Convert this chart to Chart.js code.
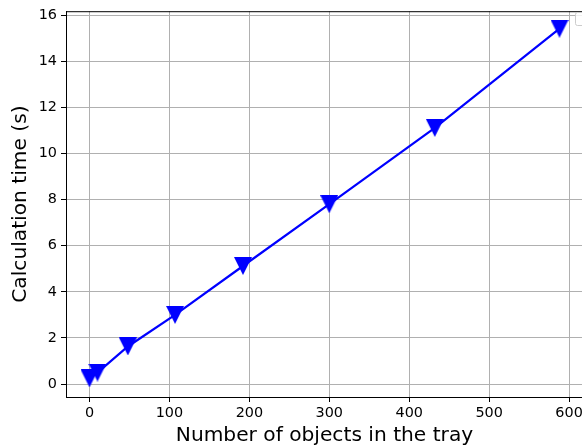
<!DOCTYPE html>
<html>
<head>
<meta charset="utf-8">
<script src="https://cdn.jsdelivr.net/npm/chart.js@4/dist/chart.umd.min.js"></script>
<style>
  html, body { margin: 0; padding: 0; background: #fff; overflow: hidden; }
  #wrap { position: relative; width: 600px; height: 448px; }
</style>
</head>
<body>
<div id="wrap"><canvas id="chart" width="600" height="448"></canvas></div>
<script>
// Measured calculation time against number of objects in the tray
const objectCounts = [0, 10, 48, 107, 192, 300, 432, 588];
const calcTimes    = [0.25, 0.5, 1.63, 3.0, 5.12, 7.8, 11.11, 15.41];

const xLabel = 'Number of objects in the tray';
const yLabel = 'Calculation time (s)';

const FONT = "'DejaVu Sans', sans-serif";

// Downward triangle marker
function makeMarker(size, color) {
  const c = document.createElement('canvas');
  c.width = size; c.height = size;
  const g = c.getContext('2d');
  g.fillStyle = color;
  g.beginPath();
  g.moveTo(0, 0);
  g.lineTo(size, 0);
  g.lineTo(size / 2, size);
  g.closePath();
  g.fill();
  return c;
}
const marker = makeMarker(18, '#0000ff');

// Frame around the plot area plus the small empty legend box
const framePlugin = {
  id: 'frame',
  afterDraw(chart) {
    const { ctx, chartArea: a } = chart;
    ctx.save();
    ctx.strokeStyle = '#000';
    ctx.lineWidth = 1;
    ctx.strokeRect(a.left + 0.5, a.top + 0.5, a.right - a.left, a.bottom - a.top);
    ctx.strokeStyle = '#cccccc';
    ctx.fillStyle = 'rgba(255,255,255,0.8)';
    ctx.beginPath();
    ctx.roundRect(575.5, 12.5, 14, 13, 2);
    ctx.fill();
    ctx.stroke();
    ctx.restore();
  }
};

const points = objectCounts.map((x, i) => ({ x, y: calcTimes[i] }));

new Chart(document.getElementById('chart'), {
  type: 'line',
  data: {
    datasets: [{
      data: points,
      borderColor: '#0000ff',
      backgroundColor: '#0000ff',
      borderWidth: 2.2,
      pointStyle: marker,
      pointRadius: 9,
      pointHoverRadius: 9,
      tension: 0
    }]
  },
  options: {
    responsive: false,
    animation: false,
    events: [],
    layout: { padding: { top: 11, right: 17, bottom: 0, left: 0 } },
    plugins: { legend: { display: false }, tooltip: { enabled: false } },
    scales: {
      x: {
        type: 'linear',
        min: -29.4,
        max: 617.4,
        grid: { color: '#b0b0b0', lineWidth: 1, tickColor: '#000', tickLength: 5 },
        border: { color: '#000', width: 1 },
        ticks: {
          stepSize: 100,
          includeBounds: false,
          color: '#000',
          padding: 3,
          maxRotation: 0,
          font: { family: FONT, size: 14.4 }
        },
        title: {
          display: true,
          text: xLabel,
          color: '#000',
          font: { family: FONT, size: 20.2 },
          padding: { top: 0, bottom: 0 }
        },
        afterFit(s) { s.height = 51; s.paddingLeft = 0; s.paddingRight = 0; }
      },
      y: {
        type: 'linear',
        min: -0.56,
        max: 16.17,
        grid: { color: '#b0b0b0', lineWidth: 1, tickColor: '#000', tickLength: 5 },
        border: { color: '#000', width: 1 },
        ticks: {
          stepSize: 2,
          includeBounds: false,
          color: '#000',
          padding: 4,
          font: { family: FONT, size: 14.4 }
        },
        title: {
          display: true,
          text: yLabel,
          color: '#000',
          font: { family: FONT, size: 20.2 },
          padding: { top: 9, bottom: 0 }
        },
        afterFit(s) { s.width = 66; s.paddingTop = 0; s.paddingBottom = 0; }
      }
    }
  },
  plugins: [framePlugin]
});
</script>
</body>
</html>
